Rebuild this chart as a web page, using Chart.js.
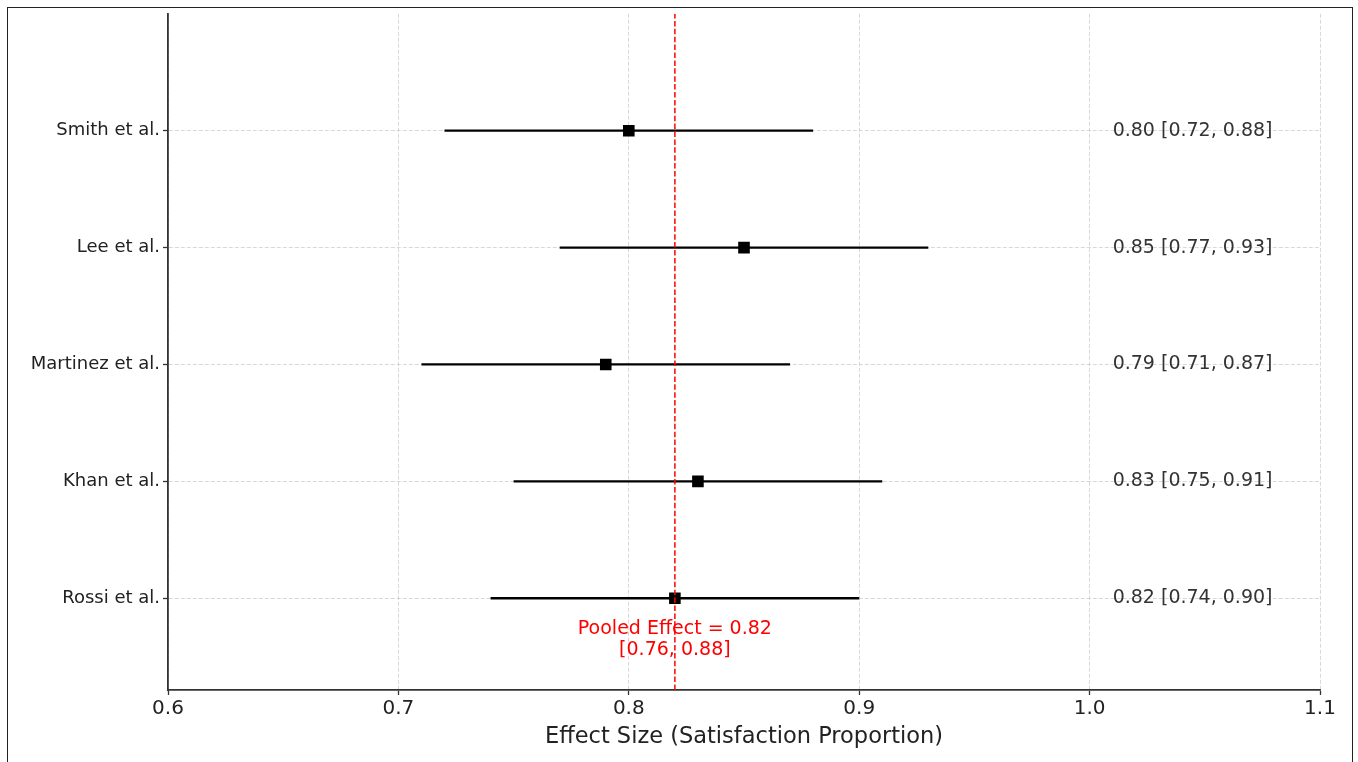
<!DOCTYPE html>
<html lang="en">
<head>
<meta charset="UTF-8">
<title>Forest plot</title>
<script src="https://cdn.jsdelivr.net/npm/chart.js"></script>
<style>
  body { margin: 0; background: #fff; }
  #frame { position: absolute; left: 7px; top: 7px; width: 1344px; height: 800px; border: 1.5px solid #222; }
  #chart { position: absolute; left: 0; top: 0; }
</style>
</head>
<body>
<div id="frame"></div>
<canvas id="chart" width="1358" height="762"></canvas>
<script>
// studies listed top to bottom
const studies = ['Smith et al.', 'Lee et al.', 'Martinez et al.', 'Khan et al.', 'Rossi et al.'];
const estimates = [0.80, 0.85, 0.79, 0.83, 0.82];
const lowerCI = [0.72, 0.77, 0.71, 0.75, 0.74];
const upperCI = [0.88, 0.93, 0.87, 0.91, 0.90];
const pooled = 0.82;
const pooledCI = [0.76, 0.88];
const xTicks = [0.6, 0.7, 0.8, 0.9, 1.0, 1.1];

const n = studies.length;
const yMin = -0.785, yMax = 5.0;
const rowY = i => n - 1 - i;
const font = 'DejaVu Sans';

const datasets = [];
// red dashed pooled line (on top)
datasets.push({
    type: 'line',
    data: [{ x: pooled, y: yMin }, { x: pooled, y: yMax }],
    borderColor: '#ff0000',
    borderWidth: 1.5,
    borderDash: [5.5, 2.4],
    pointRadius: 0,
    order: 0
});
// point estimates
datasets.push({
    type: 'scatter',
    data: estimates.map((v, i) => ({ x: v, y: rowY(i) })),
    pointStyle: 'rect',
    pointRadius: 8.2,
    backgroundColor: '#000',
    borderColor: '#000',
    borderWidth: 0,
    order: 1
});
// confidence intervals
studies.forEach((s, i) => {
    datasets.push({
        type: 'line',
        data: [{ x: lowerCI[i], y: rowY(i) }, { x: upperCI[i], y: rowY(i) }],
        borderColor: '#000',
        borderWidth: 2.3,
        pointRadius: 0,
        order: 2
    });
});

const textPlugin = {
    id: 'texts',
    afterDatasetsDraw(chart) {
        const { ctx, scales: { x, y } } = chart;
        ctx.save();
        ctx.font = '19px "' + font + '"';
        ctx.fillStyle = '#333';
        ctx.textAlign = 'left';
        ctx.textBaseline = 'middle';
        studies.forEach((s, i) => {
            const label = estimates[i].toFixed(2) + ' [' + lowerCI[i].toFixed(2) + ', ' + upperCI[i].toFixed(2) + ']';
            ctx.fillText(label, x.getPixelForValue(1.01), y.getPixelForValue(rowY(i)));
        });
        ctx.fillStyle = '#ff0000';
        ctx.textAlign = 'center';
        ctx.textBaseline = 'top';
        const px = x.getPixelForValue(pooled);
        const py = y.getPixelForValue(-0.185);
        ctx.fillText('Pooled Effect = ' + pooled.toFixed(2), px, py);
        ctx.fillText('[' + pooledCI[0].toFixed(2) + ', ' + pooledCI[1].toFixed(2) + ']', px, py + 21);
        ctx.restore();
    }
};

new Chart(document.getElementById('chart'), {
    type: 'scatter',
    data: { datasets },
    options: {
        responsive: false,
        animation: false,
        layout: { padding: { left: 0, right: 38, top: 11, bottom: 0 } },
        plugins: { legend: { display: false }, tooltip: { enabled: false } },
        scales: {
            x: {
                type: 'linear',
                min: 0.6,
                max: 1.1,
                afterBuildTicks: scale => { scale.ticks = xTicks.map(v => ({ value: v })); },
                afterFit: scale => { scale.height = 72; },
                ticks: {
                    callback: v => v.toFixed(1),
                    color: '#222',
                    font: { family: font, size: 20 },
                    padding: 2,
                    maxRotation: 0
                },
                grid: {
                    color: 'rgba(190,190,190,0.75)',
                    lineWidth: 0.8,
                    tickLength: 5,
                    tickColor: '#333',
                    tickWidth: 1.3
                },
                border: { color: '#333', width: 1.8, dash: [4, 2] },
                title: {
                    display: true,
                    text: 'Effect Size (Satisfaction Proportion)',
                    color: '#222',
                    font: { family: font, size: 22.5 },
                    padding: { top: 2, bottom: 11 }
                }
            },
            y: {
                type: 'linear',
                min: yMin,
                max: yMax,
                afterBuildTicks: scale => { scale.ticks = studies.map((s, i) => ({ value: rowY(i) })); },
                afterFit: scale => { scale.width = 168; },
                ticks: {
                    callback: v => studies[n - 1 - v],
                    color: '#222',
                    font: { family: font, size: 18 },
                    padding: 3
                },
                grid: {
                    color: 'rgba(190,190,190,0.75)',
                    lineWidth: 0.8,
                    tickLength: 5,
                    tickColor: '#333',
                    tickWidth: 1.3
                },
                border: { color: '#333', width: 1.8, dash: [4, 2] }
            }
        }
    },
    plugins: [textPlugin]
});
</script>
</body>
</html>
